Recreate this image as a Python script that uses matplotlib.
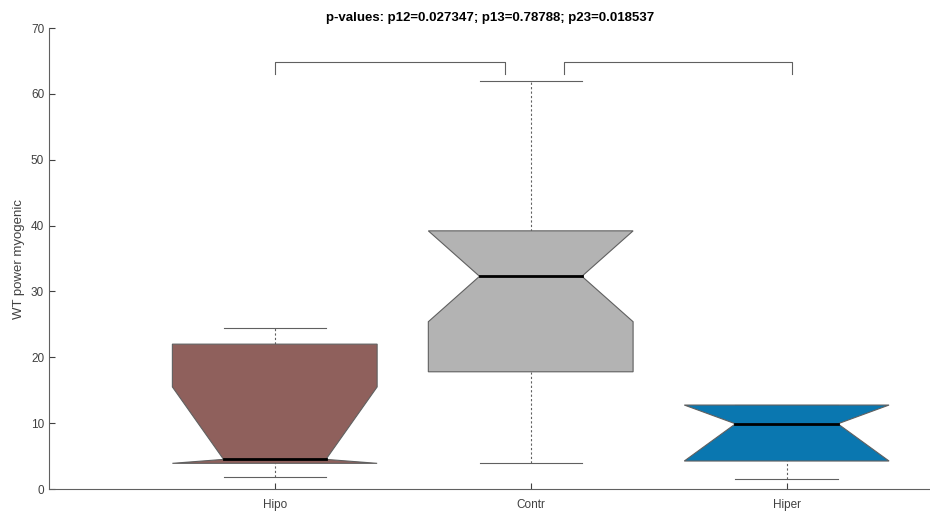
import numpy as np
import matplotlib
matplotlib.use('Agg')
import matplotlib.pyplot as plt

plt.rcParams['font.family'] = ['Liberation Sans', 'DejaVu Sans']

groups = ['Hipo', 'Contr', 'Hiper']
colors = ['#8f605c', '#b3b3b3', '#0a77b0']
q1 = [3.9, 17.8, 4.25]
med = [4.5, 32.3, 9.9]
q3 = [22.0, 39.2, 12.75]
notch_lo = [3.9, 25.4, 4.25]
notch_hi = [15.5, 39.2, 12.75]
whisk_lo = [1.8, 3.95, 1.5]
whisk_hi = [24.5, 62.0, 12.75]

# significance brackets: (x start, x end, top, bottom)
brackets = [(1.0, 1.9, 64.8, 63.0), (2.13, 3.02, 64.8, 63.0)]
title = 'p-values: p12=0.027347; p13=0.78788; p23=0.018537'

fig = plt.figure(figsize=(9.3, 5.12), dpi=100)
ax = fig.add_axes([0.0527, 0.0449, 0.9473, 0.9004])

hw = 0.40   # box half width
nw = 0.20   # notch half width
cw = 0.20   # cap half width
grey = '#606060'

for i, g in enumerate(groups):
    x = i + 1
    # whiskers
    ax.plot([x, x], [whisk_lo[i], q1[i]], ls=(0, (2, 2)), color=grey, lw=0.8, zorder=1)
    ax.plot([x, x], [q3[i], whisk_hi[i]], ls=(0, (2, 2)), color=grey, lw=0.8, zorder=1)
    ax.plot([x - cw, x + cw], [whisk_lo[i], whisk_lo[i]], color=grey, lw=0.8, zorder=1)
    ax.plot([x - cw, x + cw], [whisk_hi[i], whisk_hi[i]], color=grey, lw=0.8, zorder=1)
    # notched box
    px = [x - hw, x - hw, x - nw, x - hw, x - hw, x + hw, x + hw, x + nw, x + hw, x + hw]
    py = [q1[i], notch_lo[i], med[i], notch_hi[i], q3[i], q3[i], notch_hi[i], med[i], notch_lo[i], q1[i]]
    ax.fill(px, py, facecolor=colors[i], edgecolor=grey, lw=0.8, zorder=2)
    ax.plot([x - nw, x + nw], [med[i], med[i]], color='black', lw=2, zorder=3)

for x0, x1, top, bot in brackets:
    ax.plot([x0, x0, x1, x1], [bot, top, top, bot], color=grey, lw=0.8)

ax.set_xlim(0.118, 3.56)
ax.set_ylim(0, 70)
ax.set_xticks([1, 2, 3])
ax.set_xticklabels(groups)
ax.set_yticks(np.arange(0, 71, 10))
ax.tick_params(direction='in', length=4, colors='#404040', labelsize=8.5, width=0.8)
ax.tick_params(axis='x', pad=7)
for s in ['top', 'right']:
    ax.spines[s].set_visible(False)
for s in ['left', 'bottom']:
    ax.spines[s].set_color(grey)
    ax.spines[s].set_linewidth(0.8)
ax.set_ylabel('WT power myogenic', fontsize=9.5, color='#404040', labelpad=4)
fig.text(0.527, 0.965, title, fontsize=9.5, fontweight='bold', ha='center', va='center')

fig.savefig('out.png', dpi=100)
